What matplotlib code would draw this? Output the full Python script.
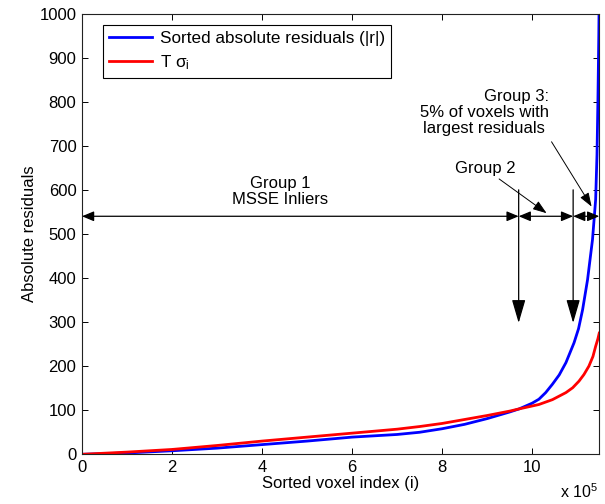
import matplotlib
matplotlib.use('Agg')
import matplotlib.pyplot as plt

plt.rcParams['font.family'] = ['Liberation Sans', 'DejaVu Sans']
plt.rcParams['font.size'] = 12

# sorted voxel index and absolute residuals
idx_blue = [0, 1e5, 2e5, 3e5, 4e5, 5e5, 6e5, 7e5, 7.5e5, 8e5, 8.5e5, 9e5, 9.5e5,
            9.71e5, 10.0e5, 10.15e5, 10.3e5, 10.45e5, 10.6e5, 10.75e5, 10.93e5,
            11.03e5, 11.12e5, 11.23e5, 11.34e5, 11.41e5, 11.44e5, 11.46e5,
            11.48e5, 11.49e5]
res_blue = [0, 3, 8, 14, 22, 30, 39, 45, 50, 58, 68, 81, 96,
            103, 116, 125, 140, 159, 180, 208, 253,
            285, 328, 396, 487, 578, 680, 800,
            950, 1050]

idx_red = [0, 1e5, 2e5, 3e5, 4e5, 5e5, 6e5, 7e5, 7.5e5, 8e5, 8.5e5, 9e5, 9.5e5,
           9.71e5, 10.15e5, 10.45e5, 10.75e5, 10.9e5, 11.04e5, 11.15e5, 11.26e5,
           11.35e5, 11.41e5, 11.46e5, 11.49e5]
res_red = [0, 5, 11, 20, 30, 39, 48, 57, 63, 70, 79, 88, 98,
           103, 113, 124, 140, 151, 166, 181, 200,
           222, 245, 262, 275]

xticks = [0, 2e5, 4e5, 6e5, 8e5, 10e5]
xticklabels = ['0', '2', '4', '6', '8', '10']
yticks = list(range(0, 1001, 100))

# group boundaries on the index axis
b0 = 0
b1 = 9.70e5
b2 = 10.91e5
b3 = 11.49e5
arrow_y = 540

fig = plt.figure(figsize=(6.05, 5.04), dpi=100)
ax = fig.add_axes([0.1355, 0.0986, 0.855, 0.8746])

ax.plot(idx_blue, res_blue, color='#0000ff', lw=2, label='Sorted absolute residuals (|r|)')
ax.plot(idx_red, res_red, color='#ff0000', lw=2, label=r'T $\mathregular{\sigma_i}$')

ax.set_xlim(0, b3)
ax.set_ylim(0, 1000)
ax.set_xticks(xticks)
ax.set_xticklabels(xticklabels)
ax.set_yticks(yticks)
ax.tick_params(direction='in', top=True, right=True, length=4, width=0.7, pad=4)
for s in ax.spines.values():
    s.set_linewidth(0.8)
    s.set_color('#222222')

ax.set_xlabel('Sorted voxel index (i)', labelpad=1)
ax.set_ylabel('Absolute residuals', labelpad=2)
fig.text(0.988, 0.006, r'x 10$^{\mathregular{5}}$', ha='right', va='bottom',
         fontsize=11.5)

leg = ax.legend(loc='upper left', bbox_to_anchor=(0.024, 0.993), fancybox=False,
                edgecolor='black', framealpha=1, handlelength=2.5, borderpad=0.35,
                labelspacing=0.4, handletextpad=0.5, fontsize=12.3)
leg.get_frame().set_linewidth(0.8)

hstyle = dict(arrowstyle='<|-|>,head_length=0.6,head_width=0.25', color='black',
              lw=0.9, shrinkA=0, shrinkB=0)
for x1, x2 in [(b0, b1), (b1, b2), (b2, b3)]:
    ax.annotate('', xy=(x2, arrow_y), xytext=(x1, arrow_y), arrowprops=hstyle,
                annotation_clip=False)

vstyle = dict(arrowstyle='-|>,head_length=1.2,head_width=0.35', color='black',
              lw=0.9, shrinkA=0, shrinkB=0)
for xb in [b1, b2]:
    ax.annotate('', xy=(xb, 298), xytext=(xb, 600), arrowprops=vstyle)

pstyle = dict(arrowstyle='-|>,head_length=0.7,head_width=0.25', color='black',
              lw=0.7, shrinkA=0, shrinkB=0)
ax.annotate('Group 2', xy=(10.32e5, 547), xytext=(8.95e5, 648),
            ha='center', va='center', arrowprops=pstyle)
ax.annotate('', xy=(11.32e5, 562), xytext=(10.43e5, 709), arrowprops=pstyle)
ax.text(10.38e5, 775, 'Group 3:\n5% of voxels with\nlargest residuals ',
        ha='right', va='center', multialignment='right', linespacing=1.1)
ax.text(4.4e5, 596, 'Group 1\nMSSE Inliers', ha='center', va='center',
        linespacing=1.1)

fig.savefig('out.png', dpi=100)
